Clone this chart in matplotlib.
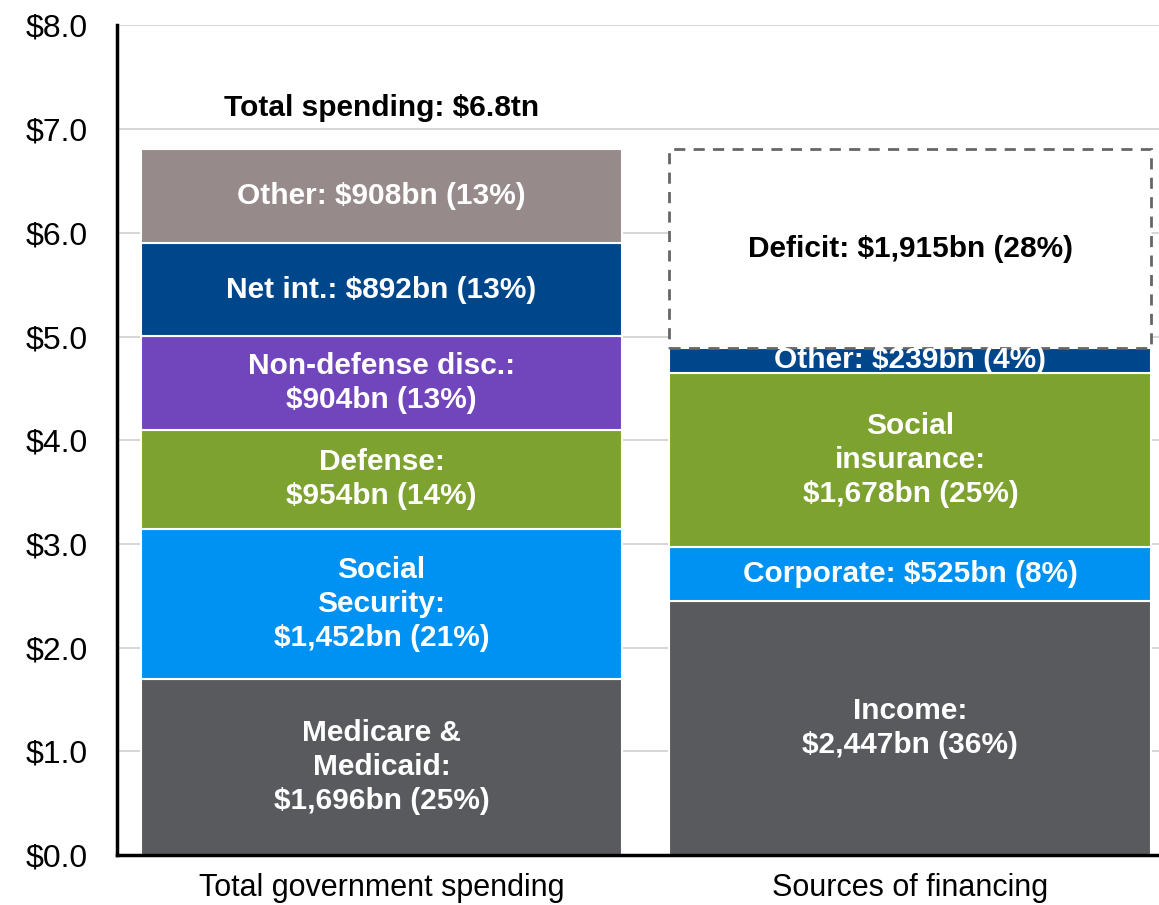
import matplotlib
matplotlib.use("Agg")
import matplotlib.pyplot as plt

plt.rcParams['font.family'] = ['Liberation Sans', 'DejaVu Sans']

categories = ["Total government spending", "Sources of financing"]

spend_labels = ["Medicare &\nMedicaid:\n$1,696bn (25%)", "Social\nSecurity:\n$1,452bn (21%)",
                "Defense:\n$954bn (14%)", "Non-defense disc.:\n$904bn (13%)",
                "Net int.: $892bn (13%)", "Other: $908bn (13%)"]
spend_values = [1.696, 1.452, 0.954, 0.904, 0.892, 0.908]
spend_colors = ["#585A5D", "#0092F2", "#7DA230", "#7146BD", "#00468B", "#968B8A"]

fin_labels = ["Income:\n$2,447bn (36%)", "Corporate: $525bn (8%)",
              "Social\ninsurance:\n$1,678bn (25%)", "Other: $239bn (4%)"]
fin_values = [2.447, 0.525, 1.678, 0.239]
fin_colors = ["#585A5D", "#0092F2", "#7DA230", "#00468B"]

deficit_label = "Deficit: $1,915bn (28%)"
deficit_value = 1.915

title_text = "Total spending: $6.8tn"
yticks = [0, 1, 2, 3, 4, 5, 6, 7, 8]
ytick_labels = ["$%.1f" % v for v in yticks]

fig = plt.figure(figsize=(11.59, 9.05), dpi=100)
ax = fig.add_axes([0.101, 0.055, 0.899, 0.917])

width = 0.911
fs = 21.5

def stack(x, values, labels, colors):
    bottom = 0.0
    for v, lab, c in zip(values, labels, colors):
        ax.bar(x, v, width, bottom=bottom, color=c, edgecolor="white", linewidth=1.5, zorder=2)
        ax.text(x, bottom + v / 2, lab, ha="center", va="center", color="white",
                fontsize=fs, fontweight="bold", linespacing=1.28, zorder=4)
        bottom += v
    return bottom

top0 = stack(0, spend_values, spend_labels, spend_colors)
top1 = stack(1, fin_values, fin_labels, fin_colors)

ax.bar(1, deficit_value, width, bottom=top1, facecolor="white", edgecolor="#666666",
       linewidth=2, linestyle=(0, (4, 3)), zorder=3)
ax.text(1, top1 + deficit_value / 2, deficit_label, ha="center", va="center",
        color="black", fontsize=fs, fontweight="bold", zorder=4)

ax.text(0, top0 + 0.4, title_text, ha="center", va="center", color="black",
        fontsize=fs, fontweight="bold")

ax.set_ylim(0, 8)
ax.set_xlim(-0.5, 1.47)
ax.set_yticks(yticks)
ax.set_yticklabels(ytick_labels, fontsize=23)
ax.set_xticks([0, 1])
ax.set_xticklabels(categories, fontsize=22)
ax.tick_params(axis="x", length=0, pad=13)
ax.tick_params(axis="y", length=0, pad=21)
ax.yaxis.grid(True, color="#D0D0D0", linewidth=1.2, zorder=0)
ax.set_axisbelow(True)
for s in ["top", "right"]:
    ax.spines[s].set_visible(False)
ax.spines["left"].set_linewidth(2.5)
ax.spines["bottom"].set_linewidth(2.5)

fig.savefig("out.png", dpi=100)
